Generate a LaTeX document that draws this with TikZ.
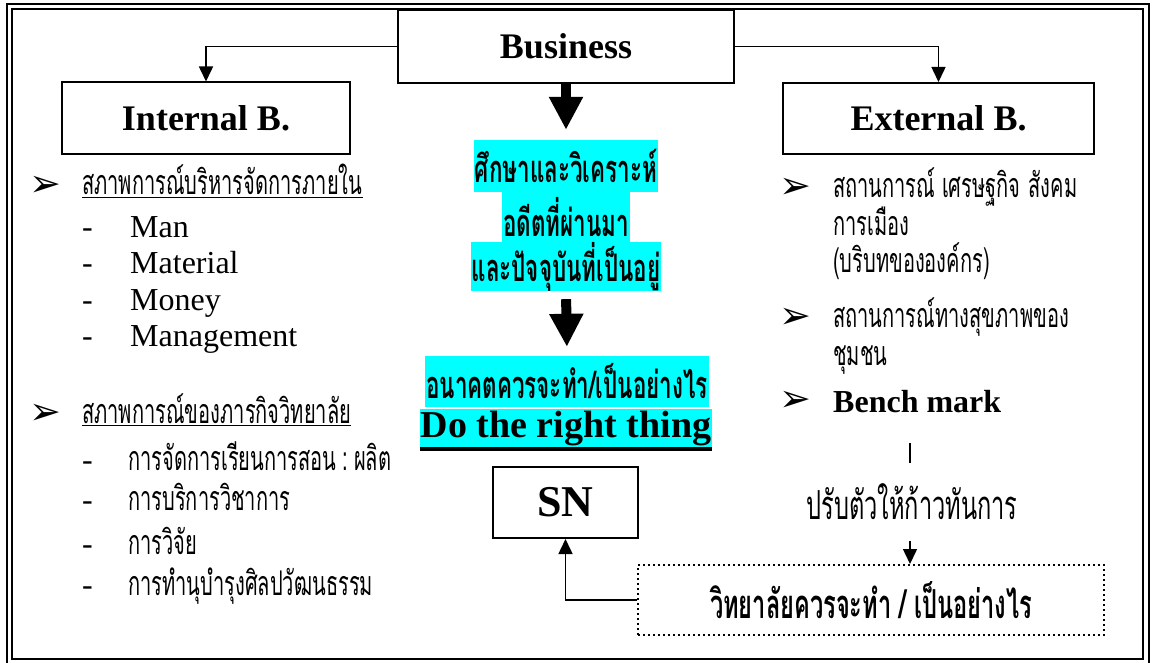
\documentclass[tikz,border=0pt]{standalone}
\usepackage{fontspec}
\setmainfont{Liberation Serif}
\newfontfamily\thaifont[Script=Thai,FakeStretch=0.59]{Loma}
\newfontfamily\symfont{DejaVu Sans}
\usetikzlibrary{arrows.meta,calc}
\definecolor{hl}{RGB}{0,255,255}
\tikzset{
  box/.style={draw,line width=2pt,fill=white,inner sep=0pt},
  thinarrow/.style={line width=1.5pt,-{Triangle[width=14pt,length=15pt]}},
  bigarrow/.style={line width=10pt,-{Triangle[width=32pt,length=33pt]}},
  cy/.style={fill=hl,inner xsep=1pt,inner ysep=0pt},
  lat/.style={inner sep=0pt,anchor=base west,font=\fontsize{32}{36}\selectfont},
  thl/.style={inner sep=0pt,anchor=base west,font=\thaifont\fontsize{34}{36}\selectfont},
  bul/.style={inner sep=0pt,font=\symfont\fontsize{38}{38}\selectfont},
  dsh/.style={inner sep=0pt,anchor=base west,font=\fontsize{32}{36}\selectfont},
}
\begin{document}
\begin{tikzpicture}[x=1pt,y=-1pt]
\useasboundingbox (0,0) rectangle (1156,663);
\clip (0,0) rectangle (1156,663);
\fill[white] (0,0) rectangle (1156,663);
% frame
\draw[line width=2pt] (7,4) rectangle (1148.5,668);
\draw[line width=2pt] (12,9) rectangle (1143,659);

% top boxes
\node[box,minimum width=336pt,minimum height=73pt] (bus) at (566,46.5) {\fontsize{36}{40}\selectfont\bfseries Business};
\node[box,minimum width=288pt,minimum height=72pt] (intb) at (206,118.5) {\fontsize{36}{40}\selectfont\bfseries Internal B.};
\node[box,minimum width=311pt,minimum height=71pt] (extb) at (938.5,118.5) {\fontsize{36}{40}\selectfont\bfseries External B.};
\draw[thinarrow] (bus.west) -| (intb.north);
\draw[thinarrow] (bus.east) -| (extb.north);

% centre column
\node[cy,minimum height=52pt] (cy1) at (566,166) {\thaifont\bfseries\fontsize{38}{40}\selectfont ศึกษาและวิเคราะห์};
\node[cy,minimum height=51pt] (cy2) at (566,217.5) {\thaifont\bfseries\fontsize{38}{40}\selectfont อดีตที่ผ่านมา};
\node[cy,minimum height=47pt] (cy3) at (566,266.5) {\thaifont\bfseries\fontsize{38}{40}\selectfont และปัจจุบันที่เป็นอยู่};
\node[cy,minimum height=51pt] (cy4) at (567,381.5) {\thaifont\bfseries\fontsize{38}{40}\selectfont\raisebox{2pt}{อนาคตควรจะทำ/เป็นอย่างไร}};
\node[cy,minimum height=39pt] (cy5) at (566,428.5) {\fontsize{38}{40}\selectfont\bfseries\raisebox{-2pt}{Do the right thing}};
\draw[line width=4pt] ([yshift=-1pt]cy5.south west) -- ([yshift=-1pt]cy5.south east);
\draw[bigarrow,shorten >=10pt] (bus.south) -- (cy1.north);
\draw[bigarrow,shorten <=8pt,shorten >=9pt] (cy3.south) -- (cy4.north);

\node[box,minimum width=145pt,minimum height=71pt] (sn) at (565.5,502.5) {\fontsize{44}{44}\selectfont\bfseries SN};
\node[draw,line width=2pt,dash pattern=on 2pt off 3pt,minimum width=466pt,minimum height=70pt,inner sep=0pt] (dot) at (871,600) {\thaifont\bfseries\fontsize{40}{42}\selectfont วิทยาลัยควรจะทำ / เป็นอย่างไร};
\draw[thinarrow] (dot.west) -| (sn.south);

% right column
\node[bul] (rb1) at (795,188) {➢};
\node[thl] (r1) at (833,197) {สถานการณ์ เศรษฐกิจ\hspace{8pt}สังคม};
\node[thl] (r2) at (833,235) {การเมือง};
\node[thl] (r3) at (833,272) {(บริบทขององค์กร)};
\node[bul] (rb2) at (795,318) {➢};
\node[thl] (r4) at (833,327) {สถานการณ์ทางสุขภาพของ};
\node[thl] (r5) at (833,365) {ชุมชน};
\node[bul] (rb3) at (795,401) {➢};
\node[lat,font=\fontsize{32}{36}\selectfont\bfseries] (r6) at (833,412) {Bench mark};
\coordinate (bm) at (910,443);
\node[inner sep=0pt,minimum height=78pt,font=\thaifont\fontsize{40}{42}\selectfont] (adj) at (912,502) {ปรับตัวให้ก้าวทันการ};
\draw[line width=1.5pt] (bm) -- (bm |- adj.north);
\draw[thinarrow] (bm |- adj.south) -- (bm |- dot.north);

% left column
\node[bul] (lb1) at (45,186) {➢};
\node[thl] (l1) at (82,195) {สภาพการณ์บริหารจัดการภายใน};
\draw[line width=1.5pt] ([yshift=-2.5pt]l1.base west) -- ([yshift=-2.5pt]l1.base east);
\node[dsh] (d1) at (82,237) {-};
\node[lat] (m1) at (130,237) {Man};
\node[dsh] (d2) at (82,273) {-};
\node[lat] (m2) at (130,273) {Material};
\node[dsh] (d3) at (82,310) {-};
\node[lat] (m3) at (130,310) {Money};
\node[dsh] (d4) at (82,346) {-};
\node[lat] (m4) at (130,346) {Management};

\node[bul] (lb2) at (45,414) {➢};
\node[thl] (l2) at (82,423) {สภาพการณ์ของภารกิจวิทยาลัย};
\draw[line width=1.5pt] ([yshift=-2.5pt]l2.base west) -- ([yshift=-2.5pt]l2.base east);
\node[dsh] (e1) at (82,470) {-};
\node[thl] (k1) at (128,470) {การจัดการเรียนการสอน\hspace{6pt}:\hspace{6pt}ผลิต};
\node[dsh] (e2) at (82,510) {-};
\node[thl] (k2) at (128,510) {การบริการวิชาการ};
\node[dsh] (e3) at (82,554) {-};
\node[thl] (k3) at (128,554) {การวิจัย};
\node[dsh] (e4) at (82,595) {-};
\node[thl] (k4) at (128,595) {การทำนุบำรุงศิลปวัฒนธรรม};
\end{tikzpicture}
\end{document}
